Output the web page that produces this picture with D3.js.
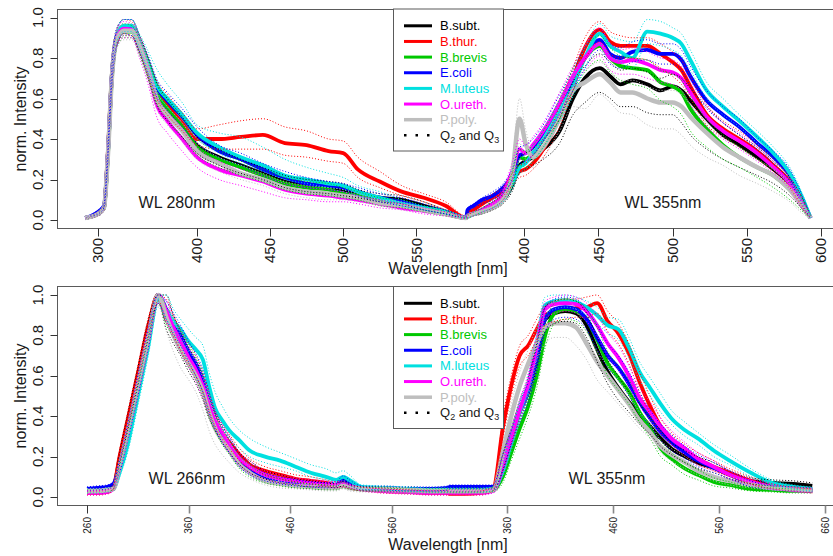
<!DOCTYPE html>
<html>
<head>
<meta charset="utf-8">
<script src="https://cdn.jsdelivr.net/npm/d3@7"></script>
<style>
  body { margin: 0; background: #fff; }
  text { font-family: "Liberation Sans", Arial, sans-serif; fill: #1a1a1a; }
</style>
</head>
<body>
<svg id="chart" width="833" height="556"></svg>
<script>
// species, in drawing / legend order
var species = ["B.subt.", "B.thur.", "B.brevis", "E.coli", "M.luteus", "O.ureth.", "P.poly."];

// ---- top panel, excitation 280 nm ----
var wlTop280 = [287, 300, 306, 310, 314, 319, 326, 334, 342, 350, 360, 370, 385, 400, 415, 430, 445, 460, 475, 490, 500, 510, 525, 540, 555, 570, 584];
var top280Med = [
  [0.01,0.03,0.06,0.33,0.71,0.90,0.95,0.95,0.87,0.77,0.62,0.55,0.46,0.37,0.31,0.27,0.23,0.19,0.17,0.16,0.15,0.13,0.11,0.10,0.07,0.04,0.01],
  [0.01,0.03,0.06,0.34,0.72,0.91,0.95,0.945,0.87,0.77,0.64,0.57,0.48,0.40,0.40,0.41,0.42,0.38,0.37,0.34,0.33,0.25,0.19,0.14,0.11,0.07,0.01],
  [0.01,0.03,0.06,0.32,0.70,0.89,0.93,0.93,0.86,0.76,0.62,0.55,0.46,0.36,0.30,0.26,0.22,0.18,0.16,0.15,0.13,0.12,0.09,0.08,0.055,0.03,0.01],
  [0.01,0.04,0.07,0.33,0.71,0.90,0.95,0.95,0.87,0.78,0.65,0.59,0.51,0.42,0.34,0.30,0.25,0.21,0.18,0.17,0.16,0.14,0.11,0.09,0.06,0.04,0.01],
  [0.01,0.03,0.06,0.33,0.72,0.91,0.96,0.96,0.88,0.79,0.66,0.60,0.52,0.43,0.36,0.31,0.27,0.22,0.20,0.18,0.17,0.14,0.11,0.08,0.06,0.04,0.01],
  [0.01,0.03,0.06,0.33,0.71,0.90,0.945,0.94,0.85,0.74,0.56,0.49,0.40,0.31,0.25,0.22,0.19,0.15,0.13,0.12,0.11,0.10,0.08,0.06,0.045,0.03,0.01],
  [0.01,0.03,0.06,0.32,0.70,0.89,0.935,0.935,0.86,0.75,0.59,0.52,0.44,0.34,0.28,0.23,0.20,0.16,0.14,0.13,0.12,0.11,0.085,0.07,0.05,0.03,0.01]
];
var top280Lo = [
  [0.01,0.02,0.05,0.30,0.66,0.86,0.91,0.91,0.82,0.71,0.56,0.49,0.41,0.33,0.27,0.23,0.20,0.16,0.14,0.13,0.12,0.11,0.09,0.08,0.05,0.03,0.01],
  [0.01,0.02,0.05,0.31,0.67,0.87,0.92,0.91,0.83,0.72,0.59,0.52,0.44,0.37,0.35,0.35,0.35,0.32,0.31,0.29,0.28,0.21,0.16,0.12,0.09,0.05,0.01],
  [0.01,0.02,0.05,0.29,0.66,0.85,0.90,0.90,0.82,0.71,0.57,0.50,0.41,0.32,0.26,0.22,0.19,0.15,0.13,0.12,0.11,0.10,0.07,0.06,0.04,0.02,0.01],
  [0.01,0.03,0.06,0.30,0.67,0.86,0.92,0.91,0.83,0.73,0.60,0.54,0.46,0.38,0.31,0.27,0.22,0.18,0.16,0.15,0.14,0.12,0.09,0.07,0.05,0.03,0.01],
  [0.01,0.02,0.05,0.30,0.68,0.88,0.93,0.93,0.85,0.75,0.62,0.56,0.48,0.40,0.33,0.28,0.24,0.20,0.18,0.16,0.15,0.12,0.10,0.07,0.05,0.03,0.01],
  [0.01,0.02,0.05,0.30,0.67,0.86,0.90,0.90,0.80,0.68,0.50,0.43,0.34,0.26,0.20,0.17,0.14,0.11,0.10,0.09,0.09,0.08,0.06,0.05,0.03,0.02,0.01],
  [0.01,0.02,0.05,0.29,0.66,0.85,0.89,0.89,0.81,0.70,0.54,0.47,0.39,0.30,0.24,0.20,0.17,0.13,0.11,0.10,0.10,0.09,0.07,0.05,0.04,0.02,0.01]
];
var top280Hi = [
  [0.01,0.04,0.07,0.36,0.75,0.94,0.99,0.99,0.91,0.81,0.67,0.60,0.51,0.41,0.35,0.30,0.26,0.22,0.20,0.19,0.18,0.15,0.13,0.12,0.09,0.05,0.02],
  [0.01,0.04,0.07,0.37,0.76,0.95,0.99,0.98,0.91,0.81,0.68,0.62,0.53,0.45,0.47,0.49,0.50,0.46,0.44,0.40,0.39,0.31,0.24,0.17,0.13,0.09,0.02],
  [0.01,0.04,0.07,0.35,0.74,0.93,0.97,0.96,0.89,0.80,0.66,0.59,0.50,0.40,0.34,0.29,0.25,0.21,0.19,0.18,0.16,0.14,0.11,0.10,0.07,0.04,0.02],
  [0.01,0.05,0.08,0.36,0.75,0.94,0.99,0.99,0.91,0.82,0.69,0.63,0.55,0.46,0.37,0.33,0.28,0.24,0.21,0.19,0.18,0.16,0.13,0.11,0.08,0.05,0.02],
  [0.01,0.04,0.07,0.36,0.76,0.95,0.99,0.99,0.92,0.84,0.74,0.67,0.58,0.47,0.43,0.41,0.36,0.30,0.26,0.23,0.21,0.17,0.14,0.10,0.07,0.05,0.02],
  [0.01,0.04,0.07,0.36,0.75,0.94,0.98,0.97,0.89,0.78,0.61,0.54,0.45,0.36,0.29,0.25,0.22,0.18,0.16,0.15,0.14,0.12,0.10,0.08,0.06,0.04,0.02],
  [0.01,0.04,0.07,0.35,0.74,0.93,0.97,0.97,0.90,0.79,0.63,0.56,0.48,0.38,0.31,0.27,0.23,0.19,0.17,0.16,0.15,0.13,0.10,0.09,0.06,0.04,0.02]
];

// ---- top panel, excitation 355 nm ----
var wlTop355 = [362, 366, 372, 379, 386, 392, 397, 401, 406, 413, 424, 433, 441, 451, 458, 465, 473, 483, 492, 500, 506, 512, 523, 534, 545, 557, 568, 579, 588, 593];
var top355Med = [
  [0.02,0.03,0.04,0.07,0.10,0.17,0.27,0.29,0.31,0.35,0.44,0.60,0.70,0.75,0.71,0.67,0.69,0.67,0.64,0.66,0.64,0.59,0.50,0.42,0.37,0.31,0.25,0.18,0.08,0.01],
  [0.03,0.05,0.08,0.11,0.14,0.20,0.24,0.25,0.28,0.35,0.51,0.70,0.85,0.94,0.88,0.86,0.86,0.86,0.82,0.78,0.74,0.66,0.52,0.45,0.40,0.34,0.27,0.19,0.08,0.01],
  [0.02,0.03,0.05,0.08,0.12,0.20,0.31,0.30,0.33,0.40,0.55,0.70,0.80,0.86,0.80,0.76,0.75,0.74,0.68,0.66,0.63,0.55,0.45,0.37,0.31,0.26,0.22,0.15,0.07,0.01],
  [0.05,0.07,0.10,0.12,0.16,0.22,0.32,0.33,0.36,0.43,0.57,0.69,0.80,0.89,0.82,0.80,0.83,0.84,0.82,0.82,0.79,0.71,0.59,0.52,0.46,0.38,0.31,0.22,0.09,0.01],
  [0.02,0.03,0.05,0.07,0.11,0.18,0.26,0.28,0.33,0.40,0.54,0.66,0.80,0.92,0.86,0.83,0.80,0.93,0.92,0.90,0.87,0.79,0.64,0.56,0.49,0.41,0.33,0.23,0.10,0.01],
  [0.02,0.03,0.05,0.08,0.13,0.24,0.35,0.33,0.37,0.44,0.58,0.71,0.80,0.87,0.80,0.78,0.79,0.77,0.74,0.73,0.70,0.63,0.51,0.44,0.39,0.33,0.26,0.18,0.07,0.01],
  [0.02,0.03,0.04,0.06,0.10,0.22,0.50,0.38,0.31,0.36,0.50,0.64,0.68,0.72,0.68,0.63,0.63,0.60,0.58,0.58,0.56,0.51,0.43,0.36,0.31,0.26,0.22,0.15,0.06,0.01]
];
var top355Lo = [
  [0.01,0.02,0.03,0.05,0.08,0.14,0.23,0.25,0.27,0.30,0.38,0.52,0.58,0.63,0.60,0.56,0.56,0.53,0.52,0.52,0.48,0.42,0.35,0.30,0.26,0.22,0.18,0.12,0.05,0.01],
  [0.02,0.04,0.06,0.09,0.12,0.17,0.21,0.22,0.25,0.31,0.46,0.64,0.79,0.88,0.82,0.80,0.80,0.79,0.75,0.71,0.67,0.60,0.47,0.41,0.36,0.30,0.24,0.16,0.06,0.01],
  [0.01,0.02,0.04,0.06,0.10,0.17,0.27,0.26,0.29,0.36,0.50,0.64,0.73,0.79,0.73,0.69,0.67,0.65,0.59,0.56,0.52,0.44,0.36,0.30,0.26,0.21,0.16,0.10,0.04,0.01],
  [0.04,0.06,0.08,0.10,0.14,0.19,0.28,0.29,0.32,0.39,0.52,0.64,0.75,0.84,0.77,0.75,0.78,0.79,0.77,0.77,0.74,0.66,0.55,0.48,0.42,0.35,0.28,0.19,0.07,0.01],
  [0.01,0.02,0.04,0.06,0.09,0.15,0.23,0.25,0.29,0.36,0.49,0.61,0.75,0.87,0.81,0.78,0.75,0.87,0.86,0.84,0.81,0.74,0.60,0.52,0.46,0.38,0.30,0.20,0.08,0.01],
  [0.01,0.02,0.04,0.06,0.10,0.20,0.30,0.29,0.33,0.40,0.53,0.66,0.74,0.81,0.74,0.72,0.72,0.70,0.68,0.67,0.64,0.57,0.46,0.40,0.35,0.29,0.23,0.15,0.05,0.01],
  [0.01,0.02,0.03,0.05,0.08,0.17,0.38,0.30,0.26,0.31,0.44,0.56,0.55,0.62,0.58,0.53,0.52,0.47,0.45,0.45,0.42,0.37,0.31,0.27,0.22,0.18,0.14,0.09,0.03,0.01]
];
var top355Hi = [
  [0.03,0.04,0.06,0.09,0.13,0.20,0.31,0.33,0.35,0.40,0.50,0.68,0.76,0.82,0.78,0.74,0.75,0.73,0.70,0.72,0.70,0.65,0.56,0.48,0.42,0.36,0.29,0.21,0.10,0.02],
  [0.04,0.06,0.09,0.13,0.16,0.23,0.27,0.28,0.32,0.39,0.56,0.75,0.90,0.98,0.93,0.91,0.90,0.90,0.87,0.83,0.79,0.71,0.57,0.49,0.44,0.37,0.30,0.21,0.10,0.02],
  [0.03,0.04,0.06,0.10,0.14,0.23,0.35,0.34,0.37,0.44,0.60,0.75,0.85,0.91,0.85,0.81,0.80,0.79,0.74,0.72,0.69,0.61,0.50,0.42,0.36,0.30,0.25,0.18,0.09,0.02],
  [0.06,0.08,0.11,0.14,0.18,0.25,0.36,0.37,0.40,0.47,0.62,0.74,0.85,0.94,0.87,0.85,0.88,0.89,0.87,0.87,0.84,0.76,0.64,0.56,0.50,0.41,0.34,0.25,0.11,0.02],
  [0.03,0.04,0.06,0.09,0.13,0.21,0.30,0.32,0.37,0.45,0.59,0.71,0.85,0.97,0.91,0.89,0.88,0.99,0.98,0.95,0.92,0.84,0.68,0.60,0.52,0.44,0.36,0.26,0.12,0.02],
  [0.03,0.04,0.06,0.10,0.16,0.28,0.40,0.37,0.41,0.48,0.63,0.76,0.86,0.95,0.87,0.84,0.85,0.83,0.80,0.79,0.76,0.69,0.56,0.48,0.43,0.36,0.29,0.21,0.09,0.02],
  [0.03,0.04,0.05,0.08,0.12,0.27,0.60,0.45,0.35,0.41,0.55,0.69,0.74,0.78,0.74,0.69,0.69,0.66,0.64,0.64,0.62,0.57,0.48,0.41,0.36,0.30,0.25,0.18,0.08,0.02]
];

// ---- bottom panel, excitation 266 nm ----
var wlBot266 = [260, 270, 280, 286, 292, 300, 310, 320, 330, 338, 345, 352, 360, 367, 374, 380, 386, 393, 400, 410, 420, 435, 450, 465, 480, 495, 505, 512, 518, 530, 550, 575, 600, 615];
var bot266Med = [
  [0.03,0.03,0.035,0.05,0.19,0.37,0.60,0.83,1.0,0.88,0.82,0.76,0.68,0.63,0.55,0.45,0.38,0.31,0.26,0.19,0.15,0.11,0.09,0.075,0.065,0.06,0.055,0.07,0.055,0.04,0.04,0.04,0.035,0.035],
  [0.02,0.02,0.025,0.05,0.20,0.38,0.61,0.84,1.0,0.91,0.85,0.78,0.71,0.65,0.57,0.47,0.39,0.32,0.27,0.21,0.16,0.13,0.11,0.09,0.08,0.07,0.06,0.06,0.05,0.04,0.03,0.025,0.02,0.02],
  [0.03,0.03,0.035,0.04,0.15,0.32,0.55,0.78,1.0,0.90,0.84,0.77,0.70,0.64,0.56,0.45,0.37,0.30,0.24,0.17,0.13,0.09,0.07,0.06,0.05,0.045,0.045,0.06,0.05,0.04,0.035,0.03,0.03,0.03],
  [0.04,0.045,0.05,0.065,0.15,0.32,0.55,0.78,1.0,0.93,0.86,0.80,0.72,0.66,0.58,0.47,0.38,0.31,0.25,0.18,0.14,0.10,0.08,0.07,0.06,0.055,0.06,0.09,0.07,0.045,0.045,0.04,0.04,0.045],
  [0.03,0.03,0.035,0.04,0.12,0.26,0.50,0.74,0.98,0.92,0.87,0.83,0.77,0.73,0.68,0.55,0.44,0.38,0.33,0.28,0.23,0.20,0.18,0.15,0.12,0.10,0.085,0.10,0.085,0.05,0.045,0.04,0.035,0.035],
  [0.02,0.02,0.025,0.04,0.15,0.32,0.55,0.78,1.0,0.92,0.84,0.77,0.69,0.63,0.55,0.46,0.38,0.32,0.26,0.19,0.15,0.11,0.09,0.08,0.07,0.065,0.06,0.065,0.055,0.04,0.03,0.025,0.02,0.02],
  [0.03,0.03,0.035,0.04,0.15,0.32,0.55,0.78,1.0,0.89,0.80,0.73,0.66,0.60,0.52,0.42,0.34,0.28,0.23,0.16,0.12,0.08,0.065,0.055,0.05,0.045,0.045,0.055,0.045,0.04,0.04,0.035,0.03,0.03]
];
var bot266Lo = [
  [0.02,0.02,0.025,0.04,0.16,0.33,0.55,0.78,0.96,0.83,0.76,0.70,0.62,0.56,0.48,0.39,0.33,0.27,0.22,0.16,0.12,0.09,0.07,0.06,0.05,0.05,0.045,0.055,0.045,0.03,0.03,0.03,0.025,0.025],
  [0.01,0.01,0.015,0.04,0.17,0.34,0.57,0.80,0.97,0.87,0.80,0.73,0.66,0.60,0.52,0.43,0.35,0.29,0.24,0.18,0.14,0.11,0.09,0.075,0.065,0.055,0.05,0.05,0.04,0.03,0.02,0.015,0.01,0.01],
  [0.02,0.02,0.025,0.03,0.12,0.28,0.50,0.73,0.96,0.85,0.79,0.72,0.64,0.58,0.50,0.40,0.33,0.26,0.21,0.14,0.10,0.07,0.055,0.045,0.04,0.035,0.035,0.045,0.04,0.03,0.025,0.02,0.02,0.02],
  [0.03,0.035,0.04,0.055,0.12,0.28,0.50,0.73,0.96,0.88,0.81,0.75,0.67,0.60,0.52,0.42,0.34,0.27,0.22,0.15,0.11,0.08,0.065,0.055,0.05,0.045,0.05,0.075,0.06,0.035,0.035,0.03,0.03,0.035],
  [0.02,0.02,0.025,0.03,0.10,0.22,0.45,0.69,0.94,0.88,0.83,0.78,0.72,0.68,0.62,0.50,0.40,0.34,0.29,0.24,0.20,0.17,0.15,0.13,0.10,0.085,0.07,0.085,0.07,0.04,0.035,0.03,0.025,0.025],
  [0.01,0.01,0.015,0.03,0.12,0.28,0.50,0.73,0.96,0.87,0.79,0.72,0.64,0.57,0.49,0.41,0.34,0.28,0.22,0.16,0.12,0.09,0.07,0.065,0.055,0.05,0.045,0.05,0.045,0.03,0.02,0.015,0.01,0.01],
  [0.02,0.02,0.025,0.03,0.12,0.28,0.50,0.73,0.95,0.82,0.72,0.64,0.58,0.52,0.43,0.33,0.26,0.21,0.17,0.12,0.09,0.06,0.045,0.04,0.035,0.03,0.03,0.04,0.03,0.025,0.025,0.02,0.02,0.02]
];
var bot266Hi = [
  [0.04,0.04,0.045,0.06,0.22,0.41,0.64,0.87,1.0,1.0,0.90,0.82,0.74,0.68,0.60,0.50,0.42,0.35,0.30,0.22,0.18,0.13,0.11,0.09,0.08,0.07,0.065,0.085,0.065,0.05,0.05,0.05,0.045,0.045],
  [0.03,0.03,0.035,0.06,0.23,0.42,0.65,0.88,1.0,0.98,0.90,0.83,0.76,0.70,0.62,0.52,0.43,0.36,0.31,0.24,0.19,0.15,0.13,0.11,0.10,0.085,0.075,0.075,0.06,0.05,0.04,0.035,0.03,0.03],
  [0.04,0.04,0.045,0.05,0.18,0.36,0.60,0.83,1.0,0.95,0.89,0.82,0.75,0.69,0.61,0.50,0.41,0.34,0.28,0.20,0.16,0.11,0.09,0.075,0.065,0.06,0.055,0.075,0.06,0.05,0.045,0.04,0.04,0.04],
  [0.05,0.055,0.06,0.075,0.18,0.36,0.60,0.83,1.0,0.97,0.91,0.85,0.77,0.71,0.63,0.52,0.42,0.35,0.29,0.21,0.17,0.12,0.10,0.085,0.075,0.07,0.075,0.105,0.085,0.055,0.055,0.05,0.05,0.055],
  [0.04,0.04,0.045,0.05,0.14,0.29,0.54,0.78,1.0,1.0,0.93,0.88,0.83,0.79,0.75,0.62,0.52,0.45,0.39,0.33,0.29,0.25,0.22,0.19,0.16,0.14,0.12,0.13,0.11,0.06,0.055,0.05,0.045,0.045],
  [0.03,0.03,0.035,0.05,0.18,0.36,0.60,0.83,1.0,0.97,0.89,0.82,0.74,0.68,0.60,0.51,0.42,0.36,0.30,0.22,0.18,0.13,0.11,0.095,0.085,0.08,0.075,0.08,0.065,0.05,0.04,0.035,0.03,0.03],
  [0.04,0.04,0.045,0.05,0.18,0.36,0.60,0.83,1.0,0.95,0.87,0.80,0.73,0.67,0.59,0.49,0.40,0.33,0.27,0.20,0.15,0.10,0.08,0.07,0.065,0.06,0.06,0.07,0.06,0.05,0.05,0.045,0.04,0.04]
];

// ---- bottom panel, excitation 355 nm ----
var wlBot355 = [306, 320, 335, 347, 356, 364, 372, 380, 388, 396, 405, 415, 425, 435, 445, 455, 465, 475, 485, 495, 505, 515, 528, 540, 555, 570, 590, 610, 630, 648];
var bot355Med = [
  [0.035,0.035,0.035,0.04,0.17,0.30,0.43,0.54,0.70,0.88,0.91,0.92,0.91,0.85,0.73,0.62,0.54,0.47,0.41,0.35,0.29,0.24,0.20,0.17,0.145,0.11,0.08,0.07,0.065,0.055],
  [0.015,0.015,0.02,0.04,0.34,0.55,0.70,0.75,0.83,0.90,0.92,0.93,0.935,0.94,0.96,0.87,0.81,0.71,0.57,0.45,0.35,0.29,0.23,0.19,0.15,0.12,0.08,0.05,0.04,0.03],
  [0.03,0.03,0.03,0.035,0.10,0.22,0.34,0.45,0.60,0.80,0.91,0.93,0.92,0.88,0.78,0.66,0.59,0.52,0.42,0.34,0.24,0.19,0.14,0.11,0.075,0.06,0.04,0.035,0.03,0.03],
  [0.05,0.05,0.05,0.05,0.17,0.30,0.42,0.52,0.68,0.88,0.93,0.94,0.93,0.88,0.79,0.70,0.64,0.56,0.47,0.39,0.32,0.27,0.22,0.18,0.145,0.11,0.065,0.045,0.04,0.035],
  [0.035,0.035,0.035,0.04,0.13,0.27,0.42,0.55,0.75,0.95,0.97,0.975,0.965,0.94,0.90,0.85,0.83,0.74,0.62,0.54,0.46,0.39,0.33,0.29,0.23,0.18,0.12,0.07,0.05,0.04],
  [0.02,0.02,0.02,0.03,0.15,0.29,0.43,0.56,0.74,0.93,0.955,0.96,0.955,0.92,0.85,0.76,0.69,0.60,0.49,0.42,0.35,0.29,0.24,0.19,0.15,0.11,0.075,0.05,0.035,0.03],
  [0.03,0.03,0.03,0.035,0.22,0.40,0.55,0.66,0.76,0.84,0.86,0.86,0.84,0.76,0.67,0.60,0.53,0.46,0.38,0.32,0.25,0.21,0.17,0.13,0.10,0.08,0.06,0.045,0.04,0.035]
];
var bot355Lo = [
  [0.025,0.025,0.025,0.03,0.13,0.26,0.38,0.49,0.64,0.82,0.86,0.87,0.86,0.79,0.67,0.56,0.48,0.42,0.36,0.31,0.25,0.21,0.17,0.14,0.12,0.09,0.065,0.055,0.05,0.045],
  [0.01,0.01,0.01,0.03,0.29,0.50,0.65,0.70,0.78,0.85,0.87,0.88,0.89,0.89,0.91,0.82,0.76,0.66,0.52,0.41,0.32,0.26,0.20,0.16,0.13,0.10,0.065,0.04,0.03,0.02],
  [0.02,0.02,0.02,0.025,0.07,0.18,0.29,0.40,0.54,0.74,0.86,0.88,0.87,0.82,0.72,0.60,0.53,0.46,0.37,0.29,0.20,0.16,0.11,0.085,0.055,0.045,0.03,0.025,0.02,0.02],
  [0.04,0.04,0.04,0.04,0.13,0.26,0.37,0.47,0.62,0.82,0.88,0.89,0.88,0.83,0.73,0.64,0.58,0.50,0.42,0.35,0.28,0.23,0.19,0.15,0.12,0.09,0.05,0.035,0.03,0.025],
  [0.025,0.025,0.025,0.03,0.10,0.23,0.37,0.50,0.69,0.90,0.93,0.94,0.93,0.90,0.86,0.81,0.78,0.69,0.58,0.50,0.42,0.36,0.30,0.26,0.20,0.16,0.10,0.06,0.04,0.03],
  [0.01,0.01,0.01,0.02,0.11,0.25,0.38,0.51,0.68,0.88,0.91,0.92,0.91,0.87,0.80,0.70,0.63,0.55,0.45,0.38,0.31,0.26,0.21,0.16,0.13,0.09,0.06,0.04,0.025,0.02],
  [0.02,0.02,0.02,0.025,0.17,0.34,0.48,0.58,0.68,0.76,0.79,0.79,0.75,0.68,0.58,0.52,0.46,0.40,0.34,0.29,0.22,0.18,0.14,0.11,0.08,0.06,0.045,0.035,0.03,0.025]
];
var bot355Hi = [
  [0.045,0.045,0.045,0.05,0.21,0.34,0.48,0.59,0.76,0.94,0.97,0.98,0.97,0.91,0.79,0.68,0.60,0.52,0.46,0.39,0.33,0.27,0.23,0.20,0.17,0.13,0.095,0.085,0.08,0.07],
  [0.025,0.025,0.03,0.05,0.39,0.60,0.75,0.80,0.88,0.95,0.97,0.98,0.98,0.99,1.0,0.92,0.86,0.76,0.62,0.50,0.39,0.32,0.26,0.22,0.18,0.14,0.10,0.065,0.05,0.04],
  [0.04,0.04,0.04,0.045,0.13,0.26,0.39,0.50,0.66,0.86,0.96,0.98,0.97,0.93,0.84,0.72,0.65,0.58,0.47,0.39,0.28,0.22,0.17,0.135,0.095,0.075,0.05,0.045,0.04,0.04],
  [0.06,0.06,0.06,0.06,0.21,0.34,0.47,0.57,0.74,0.94,0.98,0.99,0.98,0.93,0.85,0.76,0.70,0.62,0.52,0.43,0.36,0.31,0.25,0.21,0.17,0.13,0.08,0.055,0.05,0.045],
  [0.045,0.045,0.045,0.05,0.16,0.31,0.47,0.60,0.81,0.99,1.0,1.0,0.99,0.97,0.94,0.89,0.88,0.79,0.67,0.59,0.51,0.43,0.37,0.32,0.26,0.21,0.14,0.085,0.06,0.05],
  [0.03,0.03,0.03,0.04,0.19,0.33,0.48,0.61,0.80,0.97,0.99,1.0,0.99,0.96,0.90,0.81,0.75,0.65,0.54,0.47,0.39,0.33,0.27,0.22,0.18,0.13,0.09,0.065,0.045,0.04],
  [0.04,0.04,0.04,0.045,0.27,0.46,0.62,0.73,0.84,0.92,0.97,0.98,0.93,0.82,0.72,0.65,0.58,0.51,0.42,0.36,0.28,0.24,0.20,0.155,0.12,0.10,0.075,0.055,0.05,0.045]
];

// tick labels
var yTicks = [0, 0.2, 0.4, 0.6, 0.8, 1.0];
var top280Ticks = [300, 400, 450, 500, 550];
var top355Ticks = [400, 450, 500, 550, 600];
var bot266Ticks = [260, 360, 460, 560];
var bot355Ticks = [360, 460, 560, 660];

// styling
var colors = ["#000000", "#ff0000", "#00c800", "#0000ff", "#00e0e0", "#ff00ff", "#bebebe"];

var svg = d3.select("#chart");

// panel layout (pixel geometry of the two stacked plots)
var panels = [
  {
    boxTop: 9.5, boxBottom: 228.5,
    y: d3.scaleLinear().domain([0, 1]).range([220, 17.5]),
    tickSize: 15, tickLabelY: 238, tickColor: "#333",
    titleY: 274, ylabelY: 119, wlY: 202,
    segs: [
      { wl: wlTop280, med: top280Med, lo: top280Lo, hi: top280Hi, ticks: top280Ticks, label: "WL 280nm", labelX: 177,
        x: d3.scaleLinear().domain([300, 400, 584]).range([98, 197, 466]) },
      { wl: wlTop355, med: top355Med, lo: top355Lo, hi: top355Hi, ticks: top355Ticks, label: "WL 355nm", labelX: 663,
        x: d3.scaleLinear().domain([400, 600]).range([524, 821]) }
    ]
  },
  {
    boxTop: 286.5, boxBottom: 505.5,
    y: d3.scaleLinear().domain([0, 1]).range([497, 295]),
    tickSize: 10, tickLabelY: 517, tickColor: "#888",
    titleY: 550, ylabelY: 396, wlY: 478,
    segs: [
      { wl: wlBot266, med: bot266Med, lo: bot266Lo, hi: bot266Hi, ticks: bot266Ticks, label: "WL 266nm", labelX: 187,
        x: d3.scaleLinear().domain([260, 560]).range([87, 392]) },
      { wl: wlBot355, med: bot355Med, lo: bot355Lo, hi: bot355Hi, ticks: bot355Ticks, label: "WL 355nm", labelX: 607,
        x: d3.scaleLinear().domain([360, 660]).range([507, 825]) }
    ]
  }
];

var boxLeft = 57.5, boxRight = 845;

panels.forEach(function (p, pi) {
  var g = svg.append("g");
  var line = d3.line().curve(d3.curveMonotoneX);

  // join both excitation segments into one trace per species
  function trace(key, k) {
    var pts = [];
    p.segs.forEach(function (s) {
      s.wl.forEach(function (w, i) { pts.push([s.x(w), p.y(s[key][k][i])]); });
    });
    return pts;
  }

  // median curves (thick)
  species.forEach(function (name, k) {
    g.append("path")
      .attr("d", line(trace("med", k)))
      .attr("fill", "none")
      .attr("stroke", colors[k])
      .attr("stroke-width", k === 6 ? 4.5 : 3.8)
      .attr("stroke-linejoin", "round");
  });

  // quartile curves (dotted)
  species.forEach(function (name, k) {
    ["lo", "hi"].forEach(function (key) {
      g.append("path")
        .attr("d", line(trace(key, k)))
        .attr("fill", "none")
        .attr("stroke", colors[k])
        .attr("stroke-width", 1)
        .attr("stroke-dasharray", "1,2");
    });
  });

  // box
  g.append("rect")
    .attr("x", boxLeft).attr("y", p.boxTop)
    .attr("width", boxRight - boxLeft).attr("height", p.boxBottom - p.boxTop)
    .attr("fill", "none").attr("stroke", "#5a5a5a").attr("stroke-width", 1);

  // y axis
  yTicks.forEach(function (t) {
    var yy = Math.round(p.y(t)) + 0.5;
    g.append("line").attr("x1", boxLeft - 7).attr("x2", boxLeft)
      .attr("y1", yy).attr("y2", yy).attr("stroke", "#333");
    g.append("text")
      .attr("transform", "translate(38," + p.y(t) + ") rotate(-90)")
      .attr("text-anchor", "middle").attr("dy", "0.35em")
      .style("font-size", "15px")
      .text(d3.format(".1f")(t));
  });

  // x axes, one per segment
  p.segs.forEach(function (s, si) {
    s.ticks.forEach(function (t, ti) {
      var xx = Math.round(s.x(t)) + 0.5;
      var soft = pi === 1 && !(si === 0 && ti === 0);
      g.append("line").attr("x1", xx).attr("x2", xx)
        .attr("y1", p.boxBottom).attr("y2", p.boxBottom + 8)
        .attr("stroke", soft ? p.tickColor : "#333")
        .attr("stroke-width", soft ? 1.6 : 1);
      g.append("text")
        .attr("transform", "translate(" + s.x(t) + "," + p.tickLabelY + ") rotate(-90)")
        .attr("text-anchor", "end").attr("dy", "0.35em")
        .style("font-size", p.tickSize + "px")
        .text(t);
    });
    g.append("text")
      .attr("x", s.labelX).attr("y", p.wlY)
      .attr("text-anchor", "middle").attr("dy", "0.35em")
      .style("font-size", "16px")
      .text(s.label);
  });

  // axis titles
  g.append("text")
    .attr("x", 448).attr("y", p.titleY)
    .attr("text-anchor", "middle")
    .style("font-size", "16px")
    .text("Wavelength [nm]");
  g.append("text")
    .attr("transform", "translate(20," + p.ylabelY + ") rotate(-90)")
    .attr("text-anchor", "middle").attr("dy", "0.35em")
    .style("font-size", "16px")
    .text("norm. Intensity");

  // legend
  var lg = g.append("g");
  var legTop = p.boxTop - 0.5 + (pi === 0 ? 0 : 0.5);
  lg.append("rect")
    .attr("x", 393.5).attr("y", legTop)
    .attr("width", 110).attr("height", 142)
    .attr("fill", "#fff").attr("stroke", "#5a5a5a");
  var rowY = function (i) { return legTop + 16.8 + i * 15.65; };
  species.forEach(function (name, k) {
    lg.append("line")
      .attr("x1", 404).attr("x2", 432)
      .attr("y1", rowY(k)).attr("y2", rowY(k))
      .attr("stroke", colors[k]).attr("stroke-width", k === 6 ? 3.5 : 3);
    lg.append("text")
      .attr("x", 440).attr("y", rowY(k)).attr("dy", "0.35em")
      .style("font-size", "13px").style("fill", colors[k])
      .text(name);
  });
  lg.append("line")
    .attr("x1", 404).attr("x2", 432)
    .attr("y1", rowY(7)).attr("y2", rowY(7))
    .attr("stroke", "#000").attr("stroke-width", 2.5)
    .attr("stroke-dasharray", "2.5,9");
  var q = lg.append("text")
    .attr("x", 440).attr("y", rowY(7)).attr("dy", "0.35em")
    .style("font-size", "13px");
  q.append("tspan").text("Q");
  q.append("tspan").attr("dy", "3").style("font-size", "9px").text("2");
  q.append("tspan").attr("dy", "-3").text(" and Q");
  q.append("tspan").attr("dy", "3").style("font-size", "9px").text("3");
});
</script>
</body>
</html>
